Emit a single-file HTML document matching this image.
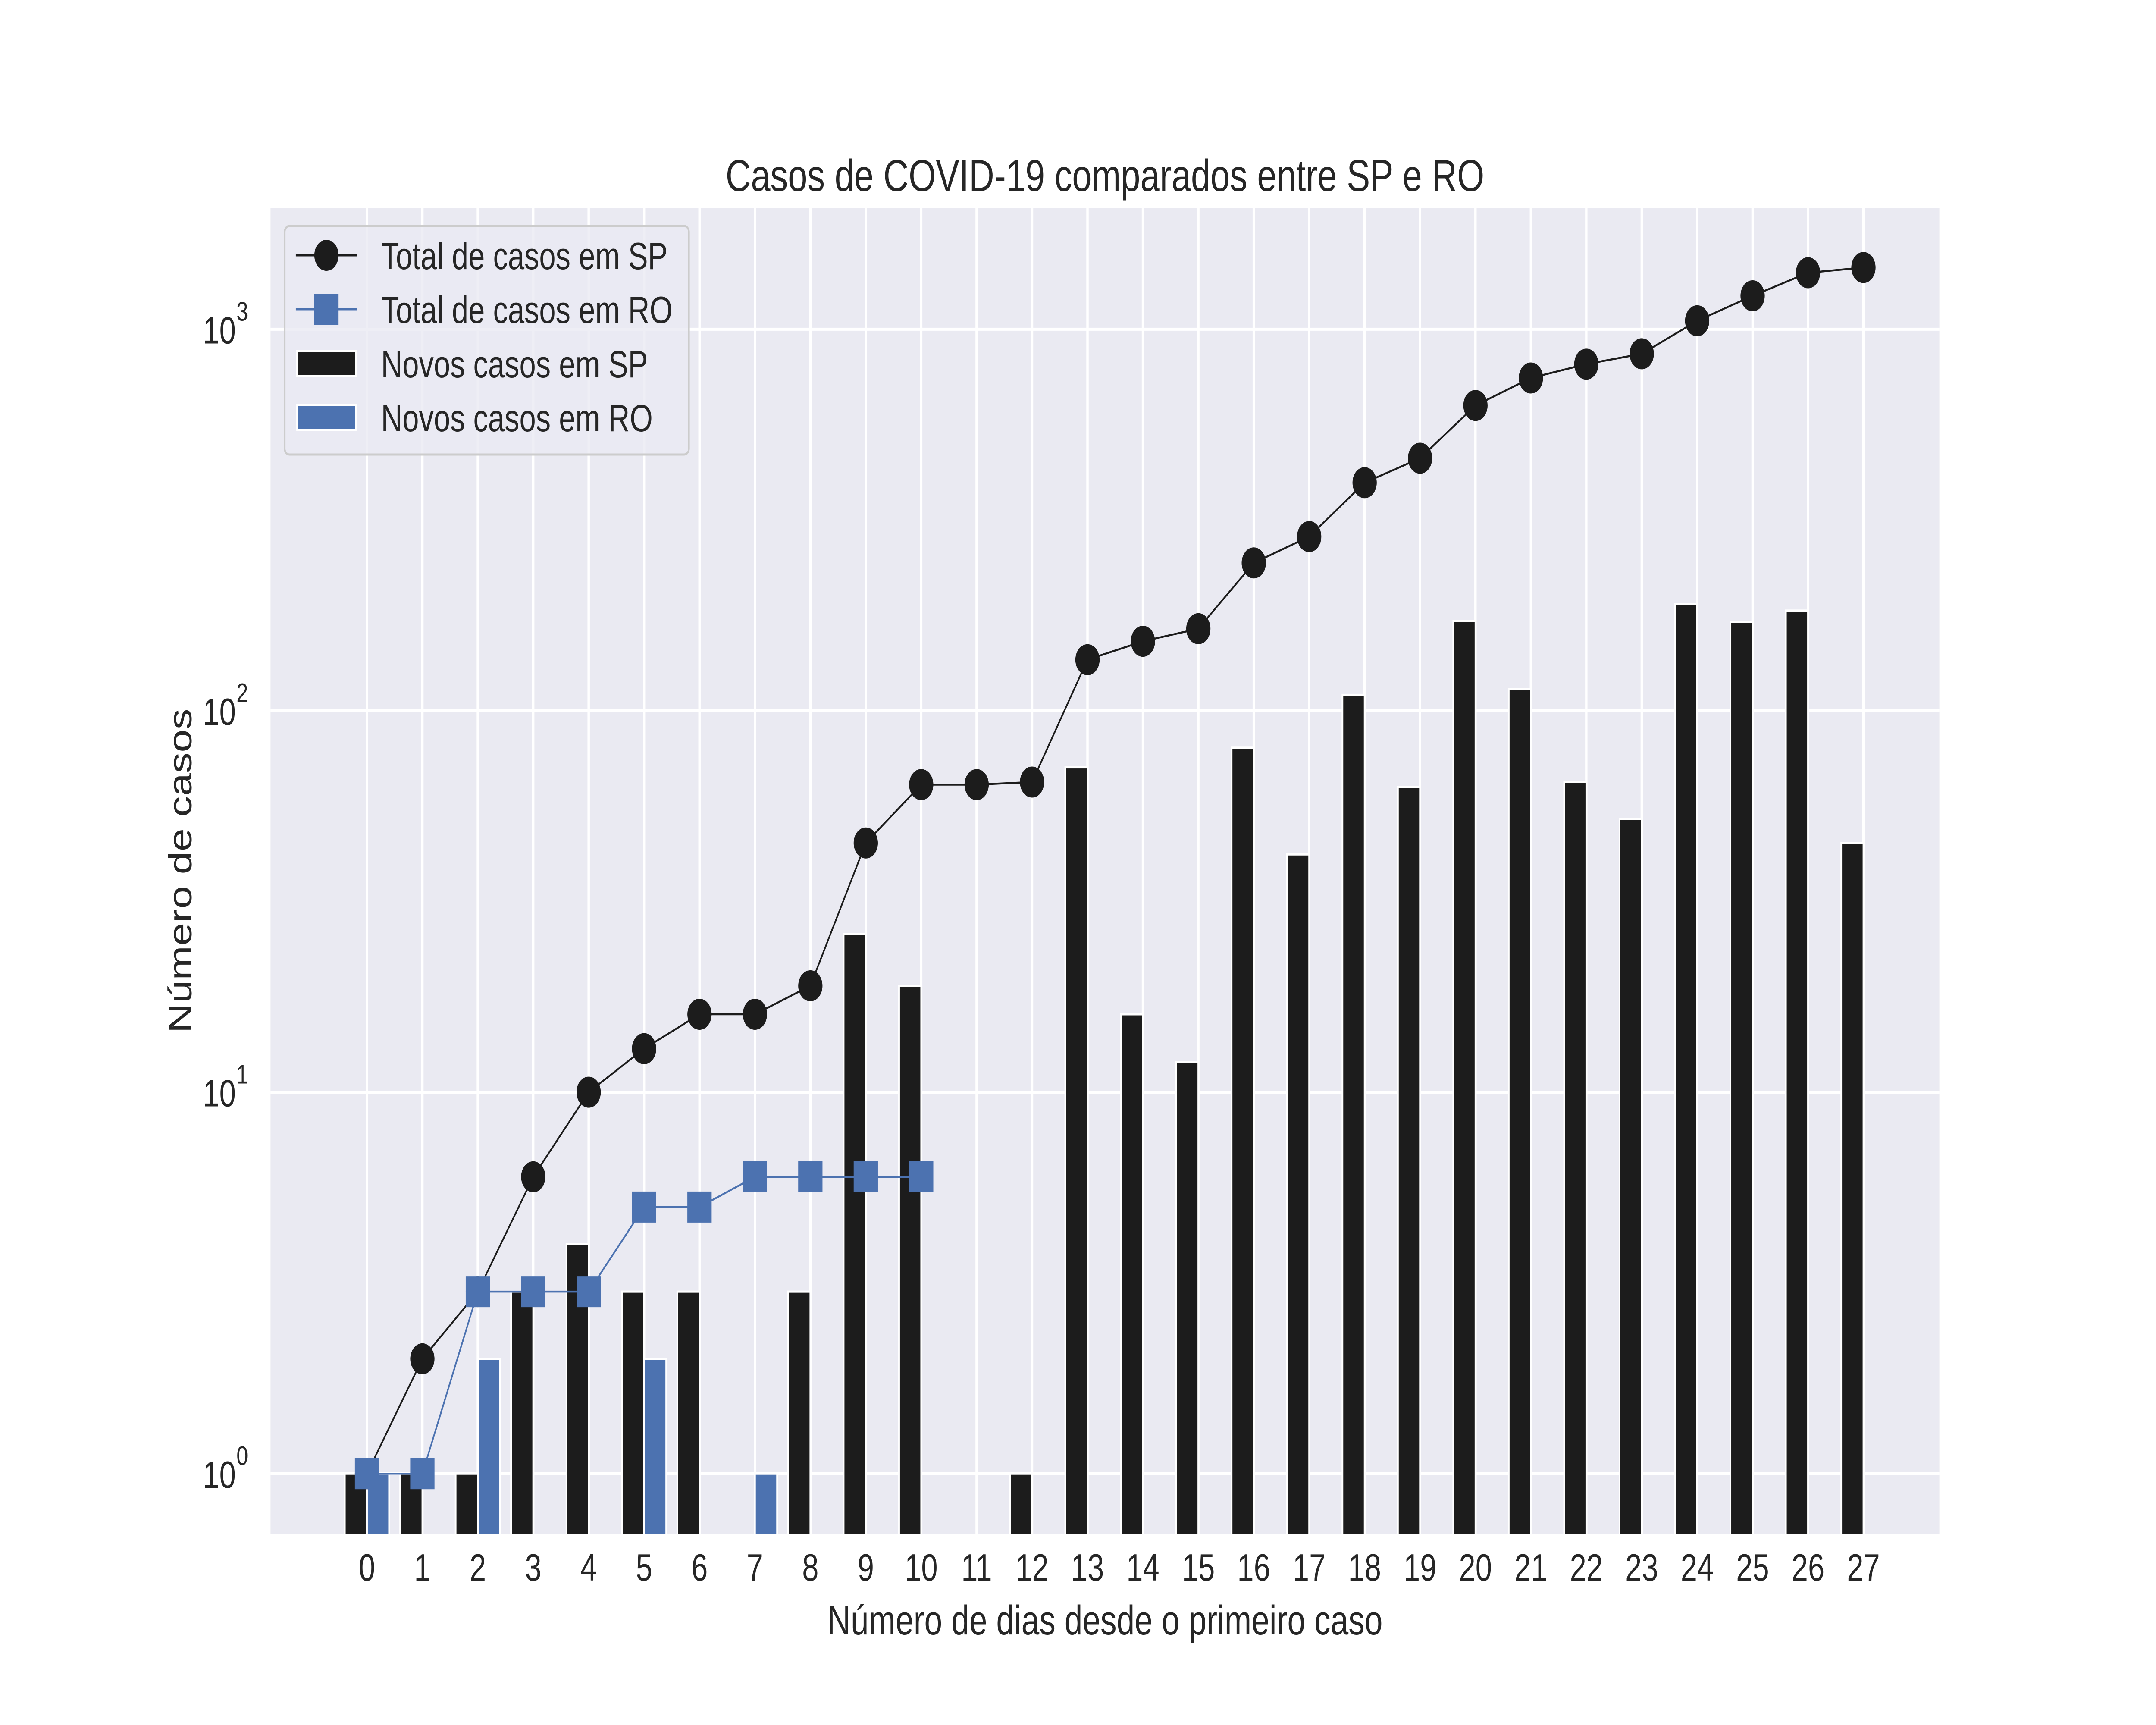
<!DOCTYPE html>
<html><head><meta charset="utf-8"><style>
html,body{margin:0;padding:0;background:#fff;overflow:hidden;width:100%;height:100%}
svg{display:block;width:100vw;height:100vh;font-family:"Liberation Sans",Arial,sans-serif}
</style></head><body>
<svg id="chart" viewBox="0 0 6400 4000" preserveAspectRatio="none" xmlns="http://www.w3.org/2000/svg"></svg>
<script>
const days = [0,1,2,3,4,5,6,7,8,9,10,11,12,13,14,15,16,17,18,19,20,21,22,23,24,25,26,27];
const spTotal = [1,2,3,6,10,13,16,16,19,45,64,64,65,136,152,164,244,286,396,459,631,745,810,862,1052,1223,1406,1451];
const spNew = [1,1,1,3,4,3,3,0,3,26,19,0,1,71,16,12,80,42,110,63,172,114,65,52,190,171,183,45];
const roDays = [0,1,2,3,4,5,6,7,8,9,10];
const roTotal = [1,1,3,3,3,5,5,6,6,6,6];
const roNew = [1,0,2,0,0,2,0,1,0,0,0];
const yTicks = [0,1,2,3];

const L=803,R=5757,T=482,B=3557;
const X0=-1.74,X1=28.37,Y0=Math.log10(0.695),Y1=Math.log10(2080);
const xs=v=>L+(v-X0)/(X1-X0)*(R-L);
const ys=v=>B-(Math.log10(v)-Y0)/(Y1-Y0)*(B-T);
const svg=document.getElementById('chart');
const NS='http://www.w3.org/2000/svg';
function mk(tag,attrs,parent){const e=document.createElementNS(NS,tag);for(const k in attrs)e.setAttribute(k,attrs[k]);(parent||svg).appendChild(e);return e;}
const bg=mk('rect',{x:L,y:T,width:R-L,height:B-T,fill:'#eaeaf2'});


const grid=mk('g',{stroke:'#ffffff','stroke-width':7});


days.forEach(d=>{mk('line',{x1:xs(d),x2:xs(d),y1:T,y2:B},grid);});
yTicks.forEach(p=>{mk('line',{x1:L,x2:R,y1:ys(Math.pow(10,p)),y2:ys(Math.pow(10,p))},grid);});
const clip=mk('clipPath',{id:'pc'});mk('rect',{x:L,y:T,width:R-L,height:B-T},clip);
const plot=mk('g',{'clip-path':'url(#pc)'});
const bw=0.4;
days.forEach((d,i)=>{if(spNew[i]>0){const r=mk('rect',{x:xs(d-bw),y:ys(spNew[i]),width:xs(d)-xs(d-bw),height:B+50-ys(spNew[i]),fill:'#1c1c1c',stroke:'#fff','stroke-width':5},plot);

}});
roDays.forEach((d,i)=>{if(roNew[i]>0){const r=mk('rect',{x:xs(d),y:ys(roNew[i]),width:xs(d+bw)-xs(d),height:B+50-ys(roNew[i]),fill:'#4c72b0',stroke:'#fff','stroke-width':5},plot);

}});
const spLine=mk('polyline',{points:days.map((d,i)=>xs(d)+','+ys(spTotal[i])).join(' '),fill:'none',stroke:'#1c1c1c','stroke-width':4.5},plot);


days.forEach((d,i)=>{const c=mk('circle',{cx:xs(d),cy:ys(spTotal[i]),r:36,fill:'#1c1c1c'},plot);

});
const roLine=mk('polyline',{points:roDays.map((d,i)=>xs(d)+','+ys(roTotal[i])).join(' '),fill:'none',stroke:'#4c72b0','stroke-width':4.5},plot);


roDays.forEach((d,i)=>{const s=mk('rect',{x:xs(d)-36,y:ys(roTotal[i])-36,width:72,height:72,fill:'#4c72b0'},plot);

});
days.forEach(d=>{const t=mk('text',{x:xs(d),y:3665,'font-size':88,'text-anchor':'middle',fill:'#262626'});t.textContent=d;

});
yTicks.forEach(p=>{const y=ys(Math.pow(10,p));const t=mk('text',{x:700,y:y+33,'font-size':88,'text-anchor':'end',fill:'#262626'});t.textContent='10';


const s=mk('text',{x:702,y:y-20,'font-size':62,'text-anchor':'start',fill:'#262626'});s.textContent=p;

});
let t=mk('text',{x:(L+R)/2,y:443,'font-size':104,'text-anchor':'middle',fill:'#262626'});t.textContent='Casos de COVID-19 comparados entre SP e RO';

t=mk('text',{x:(L+R)/2,y:3790,'font-size':96,'text-anchor':'middle',fill:'#262626'});t.textContent='Número de dias desde o primeiro caso';

t=mk('text',{x:0,y:0,'font-size':96,'text-anchor':'middle',fill:'#262626',transform:'translate(568,'+((T+B)/2)+') rotate(-90)'});t.textContent='Número de casos';

const lg=mk('g',{});


mk('rect',{x:845,y:524,width:1200,height:530,rx:14,fill:'#eaeaf2','fill-opacity':0.8,stroke:'#cccccc','stroke-width':5},lg);
const entries=[['Total de casos em SP','line-circle','#1c1c1c'],['Total de casos em RO','line-square','#4c72b0'],['Novos casos em SP','patch','#1c1c1c'],['Novos casos em RO','patch','#4c72b0']];
const rowY=[592,717,843,968];
entries.forEach((e,i)=>{const g=mk('g',{},lg);


const y=rowY[i];
if(e[1]==='patch'){mk('rect',{x:882,y:y-29,width:174,height:58,fill:e[2],stroke:'#fff','stroke-width':5},g);}
else{mk('line',{x1:878,x2:1060,y1:y,y2:y,stroke:e[2],'stroke-width':5},g);
if(e[1]==='line-circle')mk('circle',{cx:969,cy:y,r:36,fill:e[2]},g);else mk('rect',{x:933,y:y-36,width:72,height:72,fill:e[2]},g);}
const tx=mk('text',{x:1131,y:y+32,'font-size':88,fill:'#262626'},g);tx.textContent=e[0];});
</script>
</body></html>
